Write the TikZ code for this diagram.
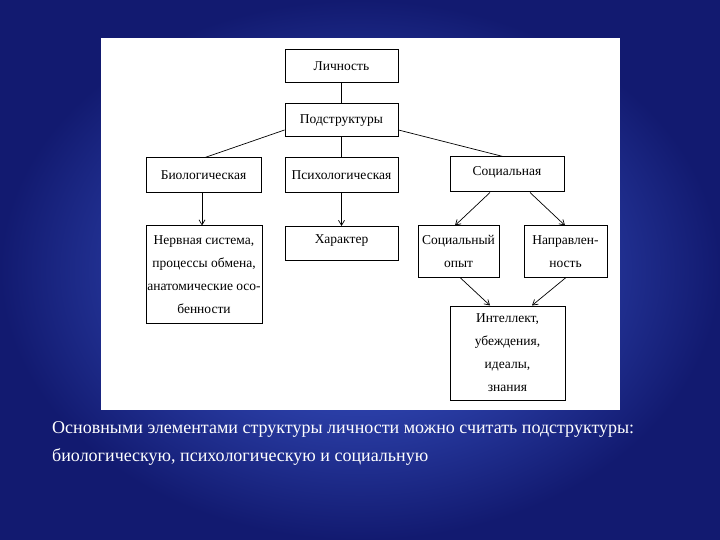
\documentclass[tikz,border=0pt]{standalone}
\usepackage{fontspec}
\setmainfont{Liberation Serif}
\usetikzlibrary{arrows.meta}
\definecolor{bgin}{HTML}{4565E0}
\definecolor{bgout}{HTML}{121A70}
\begin{document}
\begin{tikzpicture}[x=1pt,y=-1pt,
  bx/.style={draw=black,line width=1pt,fill=white,font=\fontsize{13.5}{23}\selectfont,align=center,inner sep=0pt},
  ln/.style={draw=black,line width=0.7pt},
  ar/.style={ln,-{Straight Barb[length=5pt,width=6pt]}}]
\shade[inner color=bgin,outer color=bgout] (0,0) rectangle (720,540);
\useasboundingbox (0,0) rectangle (720,540);
\fill[white] (101,38) rectangle (620,410);
\node[bx,minimum width=113pt,minimum height=33pt] (l) at (341.5,66.5) {Личность};
\node[bx,minimum width=113pt,minimum height=33pt] (p) at (341.5,120.5) {Подструктуры};
\node[bx,minimum width=115pt,minimum height=35pt] (b) at (203.5,175.5) {Биологическая};
\node[bx,minimum width=113pt,minimum height=35pt] (ps) at (341.5,175.5) {Психологическая};
\node[bx,minimum width=114pt,minimum height=35pt,text depth=6pt] (s) at (507,174.5) {Социальная};
\node[bx,minimum width=116pt,minimum height=97pt] (n) at (204,274.5) {Нервная система,\\процессы обмена,\\анатомические осо-\\бенности};
\node[bx,minimum width=113pt,minimum height=34pt,text depth=8pt,anchor=north] (h) at (341.5,226) {Характер};
\node[bx,minimum width=81pt,minimum height=51pt] (so) at (458.5,251.5) {Социальный\\опыт};
\node[bx,minimum width=83pt,minimum height=51pt] (na) at (565.5,251.5) {Направлен-\\ность};
\node[bx,minimum width=115pt,minimum height=94pt] (i) at (507.5,353) {Интеллект,\\убеждения,\\идеалы,\\знания};
\draw[ln] (l.south) -- (p.north);
\draw[ln] (p.west|-0,130) -- (b.north-|205,0);
\draw[ln] (p.south) -- (ps.north);
\draw[ln] (p.east|-0,130) -- (s.north-|503,0);
\draw[ar] (b.south-|202,0) -- (n.north-|202,0);
\draw[ar] (ps.south) -- (h.north);
\draw[ar] (s.south-|490,0) -- (so.north-|455,0);
\draw[ar] (s.south-|530,0) -- (na.north-|565,0);
\draw[ar] (so.south-|460,0) -- (i.north-|490,0);
\draw[ar] (na.south-|566,0) -- (i.north-|532,0);
\node[text=white,anchor=north west,align=left,font=\fontsize{18}{28}\selectfont,inner sep=0pt] (cap) at (52,421) {Основными элементами структуры личности можно считать подструктуры:\\биологическую, психологическую и социальную};
\end{tikzpicture}
\end{document}
